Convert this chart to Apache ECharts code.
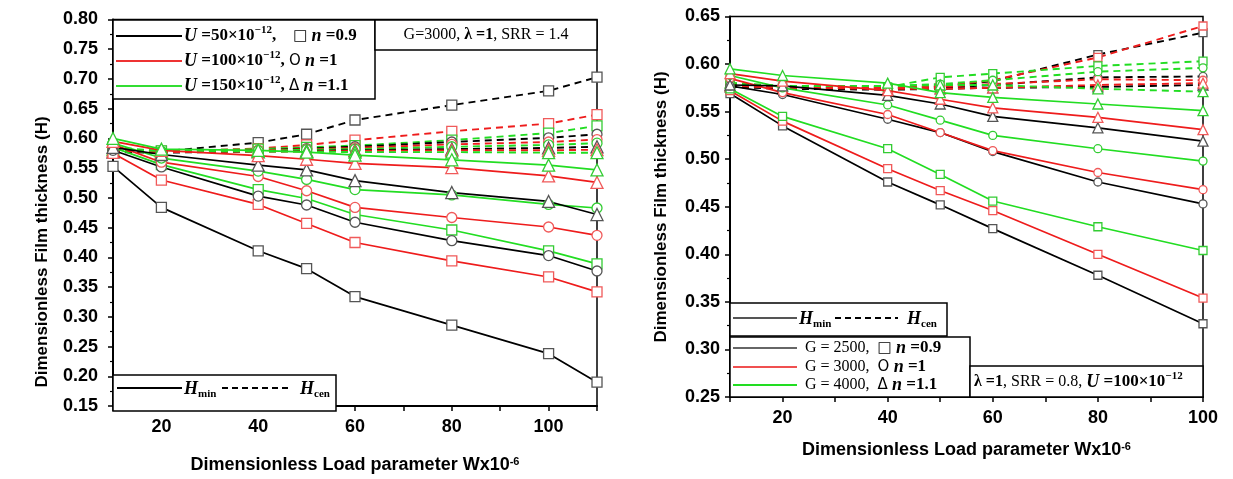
<!DOCTYPE html>
<html><head><meta charset="utf-8">
<script src="https://cdn.jsdelivr.net/npm/echarts@6.0.0/dist/echarts.min.js"></script>
<style>html,body{margin:0;padding:0;background:#fff}#c{width:1233px;height:479px}</style>
</head><body><div id="c"></div>
<script>
// ---------- data ----------
const xLeft  = [10, 20, 40, 50, 60, 80, 100, 110];
const xRight = [10, 20, 40, 50, 60, 80, 100];

// Left panel: G=3000, lambda=1, SRR=1.4 ; colour = U, marker = n
const L_min_U50_n09  = [0.553, 0.484, 0.411, 0.381, 0.334, 0.286, 0.238, 0.190];
const L_min_U100_n09 = [0.575, 0.530, 0.489, 0.457, 0.425, 0.394, 0.367, 0.342];
const L_min_U150_n09 = [0.585, 0.556, 0.514, 0.499, 0.472, 0.446, 0.411, 0.389];
const L_min_U50_n1   = [0.580, 0.552, 0.503, 0.488, 0.459, 0.428, 0.403, 0.377];
const L_min_U100_n1  = [0.590, 0.560, 0.536, 0.512, 0.484, 0.467, 0.451, 0.437];
const L_min_U150_n1  = [0.592, 0.567, 0.545, 0.531, 0.514, 0.505, 0.489, 0.483];
const L_min_U50_n11  = [0.585, 0.573, 0.555, 0.547, 0.529, 0.509, 0.494, 0.472];
const L_min_U100_n11 = [0.595, 0.580, 0.571, 0.565, 0.558, 0.551, 0.537, 0.526];
const L_min_U150_n11 = [0.600, 0.582, 0.580, 0.577, 0.572, 0.564, 0.555, 0.547];

const L_cen_U50_n09  = [0.580, 0.578, 0.593, 0.607, 0.631, 0.656, 0.680, 0.703];
const L_cen_U100_n09 = [0.582, 0.578, 0.583, 0.589, 0.597, 0.612, 0.625, 0.640];
const L_cen_U150_n09 = [0.585, 0.579, 0.582, 0.585, 0.588, 0.597, 0.609, 0.621];
const L_cen_U50_n1   = [0.578, 0.577, 0.580, 0.583, 0.586, 0.594, 0.601, 0.607];
const L_cen_U100_n1  = [0.580, 0.577, 0.580, 0.582, 0.584, 0.590, 0.594, 0.598];
const L_cen_U150_n1  = [0.582, 0.578, 0.579, 0.581, 0.582, 0.586, 0.589, 0.592];
const L_cen_U50_n11  = [0.577, 0.576, 0.578, 0.579, 0.580, 0.582, 0.584, 0.586];
const L_cen_U100_n11 = [0.579, 0.577, 0.578, 0.578, 0.579, 0.580, 0.580, 0.581];
const L_cen_U150_n11 = [0.582, 0.579, 0.578, 0.578, 0.577, 0.577, 0.576, 0.576];

// Right panel: lambda=1, SRR=0.8, U=100e-12 ; colour = G, marker = n
const R_min_G2500_n09 = [0.569, 0.535, 0.476, 0.452, 0.427, 0.378, 0.327];
const R_min_G3000_n09 = [0.572, 0.540, 0.490, 0.467, 0.446, 0.400, 0.354];
const R_min_G4000_n09 = [0.574, 0.545, 0.511, 0.484, 0.456, 0.429, 0.404];
const R_min_G2500_n1  = [0.577, 0.568, 0.542, 0.528, 0.508, 0.476, 0.453];
const R_min_G3000_n1  = [0.585, 0.570, 0.547, 0.528, 0.509, 0.486, 0.468];
const R_min_G4000_n1  = [0.588, 0.575, 0.557, 0.541, 0.525, 0.511, 0.498];
const R_min_G2500_n11 = [0.578, 0.577, 0.567, 0.558, 0.545, 0.533, 0.519];
const R_min_G3000_n11 = [0.590, 0.582, 0.572, 0.563, 0.554, 0.544, 0.531];
const R_min_G4000_n11 = [0.595, 0.588, 0.580, 0.570, 0.565, 0.558, 0.551];

const R_cen_G2500_n09 = [0.577, 0.575, 0.574, 0.576, 0.582, 0.610, 0.633];
const R_cen_G3000_n09 = [0.579, 0.575, 0.575, 0.577, 0.583, 0.607, 0.640];
const R_cen_G4000_n09 = [0.580, 0.576, 0.576, 0.586, 0.590, 0.598, 0.603];
const R_cen_G2500_n1  = [0.577, 0.575, 0.574, 0.575, 0.578, 0.586, 0.587];
const R_cen_G3000_n1  = [0.578, 0.575, 0.575, 0.576, 0.579, 0.584, 0.583];
const R_cen_G4000_n1  = [0.580, 0.577, 0.577, 0.579, 0.583, 0.592, 0.596];
const R_cen_G2500_n11 = [0.576, 0.574, 0.573, 0.574, 0.575, 0.576, 0.578];
const R_cen_G3000_n11 = [0.577, 0.575, 0.574, 0.574, 0.575, 0.578, 0.580];
const R_cen_G4000_n11 = [0.580, 0.577, 0.577, 0.578, 0.578, 0.574, 0.571];

const xTickLabels = [20, 40, 60, 80, 100];

// ---------- styling ----------
const LINE = {k: '#000000', r: '#ee1c1c', g: '#22dd22'};
const MARK = {k: '#555555', r: '#f05a5a', g: '#33cc33'};
const SHAPE = {sq: 'rect', ci: 'circle', tr: 'triangle'};

function mk(grid, xs, ys, c, sh, dashed, size) {
  return {
    type: 'line', xAxisIndex: grid, yAxisIndex: grid,
    data: xs.map((x, i) => [x, ys[i]]),
    symbol: SHAPE[sh], symbolSize: sh === 'tr' ? size + 2 : size, showSymbol: true,
    lineStyle: {color: LINE[c], width: dashed ? 1.9 : 1.7, type: dashed ? [7, 5] : 'solid'},
    itemStyle: {color: '#ffffff', borderColor: MARK[c], borderWidth: 1.3},
    z: dashed ? 2 : 3, silent: true, animation: false, emphasis: {disabled: true}
  };
}

const series = [
  mk(0, xLeft, L_cen_U50_n09, 'k', 'sq', true, 10),
  mk(0, xLeft, L_cen_U100_n09, 'r', 'sq', true, 10),
  mk(0, xLeft, L_cen_U150_n09, 'g', 'sq', true, 10),
  mk(0, xLeft, L_cen_U50_n1, 'k', 'ci', true, 10),
  mk(0, xLeft, L_cen_U100_n1, 'r', 'ci', true, 10),
  mk(0, xLeft, L_cen_U150_n1, 'g', 'ci', true, 10),
  mk(0, xLeft, L_cen_U50_n11, 'k', 'tr', true, 10),
  mk(0, xLeft, L_cen_U100_n11, 'r', 'tr', true, 10),
  mk(0, xLeft, L_cen_U150_n11, 'g', 'tr', true, 10),
  mk(0, xLeft, L_min_U50_n09, 'k', 'sq', false, 10),
  mk(0, xLeft, L_min_U100_n09, 'r', 'sq', false, 10),
  mk(0, xLeft, L_min_U150_n09, 'g', 'sq', false, 10),
  mk(0, xLeft, L_min_U50_n1, 'k', 'ci', false, 10),
  mk(0, xLeft, L_min_U100_n1, 'r', 'ci', false, 10),
  mk(0, xLeft, L_min_U150_n1, 'g', 'ci', false, 10),
  mk(0, xLeft, L_min_U50_n11, 'k', 'tr', false, 10),
  mk(0, xLeft, L_min_U100_n11, 'r', 'tr', false, 10),
  mk(0, xLeft, L_min_U150_n11, 'g', 'tr', false, 10),

  mk(1, xRight, R_cen_G2500_n09, 'k', 'sq', true, 8),
  mk(1, xRight, R_cen_G3000_n09, 'r', 'sq', true, 8),
  mk(1, xRight, R_cen_G4000_n09, 'g', 'sq', true, 8),
  mk(1, xRight, R_cen_G2500_n1, 'k', 'ci', true, 8),
  mk(1, xRight, R_cen_G3000_n1, 'r', 'ci', true, 8),
  mk(1, xRight, R_cen_G4000_n1, 'g', 'ci', true, 8),
  mk(1, xRight, R_cen_G2500_n11, 'k', 'tr', true, 8),
  mk(1, xRight, R_cen_G3000_n11, 'r', 'tr', true, 8),
  mk(1, xRight, R_cen_G4000_n11, 'g', 'tr', true, 8),
  mk(1, xRight, R_min_G2500_n09, 'k', 'sq', false, 8),
  mk(1, xRight, R_min_G3000_n09, 'r', 'sq', false, 8),
  mk(1, xRight, R_min_G4000_n09, 'g', 'sq', false, 8),
  mk(1, xRight, R_min_G2500_n1, 'k', 'ci', false, 8),
  mk(1, xRight, R_min_G3000_n1, 'r', 'ci', false, 8),
  mk(1, xRight, R_min_G4000_n1, 'g', 'ci', false, 8),
  mk(1, xRight, R_min_G2500_n11, 'k', 'tr', false, 8),
  mk(1, xRight, R_min_G3000_n11, 'r', 'tr', false, 8),
  mk(1, xRight, R_min_G4000_n11, 'g', 'tr', false, 8)
];

const SANS = 'Liberation Sans';
const SERIF = 'Liberation Serif';
const tickLbl = {fontFamily: SANS, fontWeight: 'bold', fontSize: 18, color: '#000'};
const axLine = {show: true, lineStyle: {color: '#000', width: 2}};
const axTick = {show: true, inside: false, length: 5, lineStyle: {color: '#000', width: 1.5}};

function xAxis(grid, min, max, gap) {
  return {
    type: 'value', gridIndex: grid, min: min, max: max, interval: 10,
    axisLine: axLine, axisTick: axTick, splitLine: {show: false},
    axisLabel: Object.assign({margin: 12, formatter: v => xTickLabels.includes(v) ? String(v) : ''}, tickLbl),
    name: 'Dimensionless Load parameter Wx10{sup|-6}', nameLocation: 'middle', nameGap: gap,
    nameTextStyle: {fontFamily: SANS, fontWeight: 'bold', fontSize: 18, color: '#000',
      rich: {sup: {fontFamily: SANS, fontWeight: 'bold', fontSize: 11, verticalAlign: 'top', lineHeight: 10}}}
  };
}
function yAxis(grid, min, max, margin) {
  return {
    type: 'value', gridIndex: grid, min: min, max: max, interval: 0.05,
    axisLine: axLine, axisTick: axTick, splitLine: {show: false},
    minorTick: {show: true, splitNumber: 2, length: 3, lineStyle: {color: '#000', width: 1.2}},
    axisLabel: Object.assign({margin: margin, formatter: v => v.toFixed(2)}, tickLbl)
  };
}

// rich text styles for legends
const R = {
  it:  {fontFamily: SERIF, fontWeight: 'bold', fontStyle: 'italic', fontSize: 18, lineHeight: 22, color: '#000'},
  b:   {fontFamily: SERIF, fontWeight: 'bold', fontSize: 17, lineHeight: 22, color: '#000'},
  sup: {fontFamily: SERIF, fontWeight: 'bold', fontSize: 11, lineHeight: 11, verticalAlign: 'top', color: '#000'},
  sub: {fontFamily: SERIF, fontWeight: 'bold', fontSize: 11, lineHeight: 11, verticalAlign: 'bottom', color: '#000'},
  sym: {fontFamily: 'DejaVu Sans', fontSize: 15, lineHeight: 22, color: '#000'},
  g:   {fontFamily: SERIF, fontSize: 16, lineHeight: 22, color: '#555'},
  gb:  {fontFamily: SERIF, fontWeight: 'bold', fontSize: 16, lineHeight: 22, color: '#000'}
};
function txt(x, y, t, align) {
  return {type: 'text', x: x, y: y, z: 100, silent: true,
    style: {text: t, rich: R, align: align || 'left', verticalAlign: 'middle'}};
}
function box(x, y, w, h) {
  return {type: 'rect', z: 90, silent: true, shape: {x: x, y: y, width: w, height: h},
    style: {fill: '#fff', stroke: '#000', lineWidth: 1.5}};
}
function seg(x1, x2, y, color, dashed) {
  return {type: 'line', z: 100, silent: true, shape: {x1: x1, y1: y, x2: x2, y2: y},
    style: {stroke: color, lineWidth: 2, lineDash: dashed ? [6, 4] : null}};
}

const graphic = [
  // left top legend
  box(113, 20, 262, 79),
  seg(116, 182, 36, '#000'), seg(116, 182, 61, '#ee3333'), seg(116, 182, 86, '#33dd33'),
  txt(184, 36, '{it|U}{b| =50×10}{sup|−12}{b|,    }{sym|□}{b| }{it|n}{b| =0.9}'),
  txt(184, 61, '{it|U}{b| =100×10}{sup|−12}{b|, }{sym|O}{b| }{it|n}{b| =1}'),
  txt(184, 86, '{it|U}{b| =150×10}{sup|−12}{b|, }{sym|Δ}{b| }{it|n}{b| =1.1}'),
  box(375, 20, 222, 30),
  txt(486, 35, '{g|G=3000, }{gb|λ =1}{g|, SRR = 1.4}', 'center'),
  // left bottom legend
  box(113, 375, 223, 36),
  seg(117, 182, 388, '#000'),
  txt(184, 389, '{it|H}{sub|min}'),
  seg(222, 292, 388, '#000', true),
  txt(300, 389, '{it|H}{sub|cen}'),
  // right legends
  box(730, 303, 217, 33),
  seg(733, 797, 318, '#555'),
  txt(799, 319, '{it|H}{sub|min}'),
  seg(835, 898, 318, '#000', true),
  txt(907, 319, '{it|H}{sub|cen}'),
  box(730, 337, 240, 60),
  seg(733, 797, 348, '#666'), seg(733, 797, 367, '#f05050'), seg(733, 797, 385, '#22dd22'),
  txt(805, 348, '{g|G = 2500,  }{sym|□}{b| }{it|n}{b| =0.9}'),
  txt(805, 367, '{g|G = 3000,  }{sym|O}{b| }{it|n}{b| =1}'),
  txt(805, 385, '{g|G = 4000,  }{sym|Δ}{b| }{it|n}{b| =1.1}'),
  box(970, 366, 233, 31),
  txt(974, 382, '{gb|λ =1}{g|, SRR = 0.8, }{it|U}{b| =100×10}{sup|−12}'),
  // y axis titles
  {type: 'text', x: 42, y: 252, rotation: Math.PI / 2, z: 100, silent: true,
    style: {text: 'Dimensionless Film thickness (H)', fontFamily: SANS, fontWeight: 'bold', fontSize: 17,
      fill: '#000', align: 'center', verticalAlign: 'middle'}},
  {type: 'text', x: 661, y: 207, rotation: Math.PI / 2, z: 100, silent: true,
    style: {text: 'Dimensionless Film thickness (H)', fontFamily: SANS, fontWeight: 'bold', fontSize: 17,
      fill: '#000', align: 'center', verticalAlign: 'middle'}}
];

const option = {
  backgroundColor: '#fff',
  animation: false,
  grid: [
    {left: 113, top: 19.5, width: 484, height: 391.5, show: true, borderColor: '#000', borderWidth: 1.5, backgroundColor: 'transparent'},
    {left: 730, top: 16.5, width: 473, height: 380.5, show: true, borderColor: '#000', borderWidth: 1.5, backgroundColor: 'transparent'}
  ],
  xAxis: [xAxis(0, 10, 110, 50), xAxis(1, 10, 100, 44)],
  yAxis: [yAxis(0, 0.15, 0.80, 15), yAxis(1, 0.25, 0.65, 10)],
  series: series,
  graphic: graphic
};

const chart = echarts.init(document.getElementById('c'), null, {renderer: 'canvas'});
chart.setOption(option);
</script>
</body></html>
